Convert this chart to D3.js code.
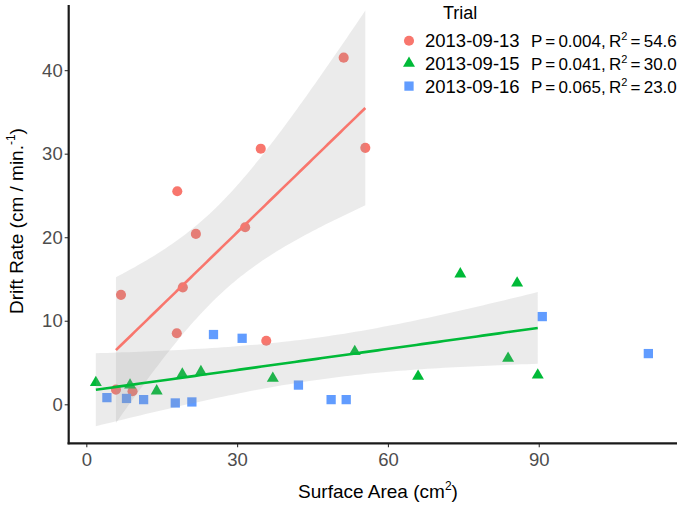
<!DOCTYPE html>
<html><head><meta charset="utf-8">
<script src="https://cdn.jsdelivr.net/npm/d3@7"></script>
<style>body{margin:0;background:#fff}text{font-family:"Liberation Sans",Arial,Helvetica,sans-serif}</style>
</head><body><svg id="c" width="685" height="505"></svg>
<script>
// ---- data ----
const trials = ["2013-09-13", "2013-09-15", "2013-09-16"];
const stats = [["0.004", "54.6"], ["0.041", "30.0"], ["0.065", "23.0"]];
const colors = ["#F8766D", "#00BA38", "#619CFF"];
const showFit = [true, true, false];
const x13 = [6.9, 5.9, 9.2, 18.0, 19.2, 21.8, 31.6, 35.8, 18.1, 34.7, 51.2, 55.5];
const y13 = [13.1, 1.76, 1.56, 8.5, 14.0, 20.4, 21.2, 7.6, 25.5, 30.6, 41.5, 30.7];
const x15 = [1.9, 8.7, 14.0, 19.1, 22.8, 37.1, 53.4, 66.0, 74.4, 85.7, 83.9, 89.8];
const y15 = [2.6, 2.3, 1.6, 3.6, 3.9, 3.1, 6.3, 3.35, 15.6, 14.5, 5.5, 3.5];
const x16 = [4.1, 8.0, 11.4, 17.7, 21.0, 25.3, 31.0, 42.2, 48.7, 51.7, 90.7, 111.8];
const y16 = [0.8, 0.7, 0.56, 0.16, 0.28, 8.35, 7.9, 2.3, 0.56, 0.56, 10.5, 6.07];
const xTicks = [0, 30, 60, 90];
const yTicks = [0, 10, 20, 30, 40];
const tCrit = 2.228; // t(0.975, df = 10)

const xs = [x13, x15, x16], ys = [y13, y15, y16];
const svg = d3.select("#c");
const x = d3.scaleLinear().domain([-3.5, 117.5]).range([68.7, 677]);
const y = d3.scaleLinear().domain([-4.67, 47.8]).range([443.3, 5]);
const shapes = [d3.symbolCircle, d3.symbolTriangle, d3.symbolSquare];
const sizes = [80, 62, 86];

// points
trials.forEach((t, i) => {
  svg.append("g").selectAll("path").data(xs[i].map((v, j) => [v, ys[i][j]])).join("path")
    .attr("transform", d => `translate(${x(d[0])},${y(d[1])})`)
    .attr("d", d3.symbol(shapes[i], sizes[i]))
    .attr("fill", colors[i]);
});

// linear fits with 95% CI
trials.forEach((t, i) => {
  if (!showFit[i]) return;
  const X = xs[i], Y = ys[i], n = X.length;
  const mx = d3.mean(X), my = d3.mean(Y);
  let sxx = 0, sxy = 0;
  X.forEach((v, j) => { sxx += (v - mx) ** 2; sxy += (v - mx) * (Y[j] - my); });
  const b = sxy / sxx, a = my - b * mx;
  let sse = 0; X.forEach((v, j) => { sse += (Y[j] - a - b * v) ** 2; });
  const s = Math.sqrt(sse / (n - 2));
  const [lo, hi] = d3.extent(X);
  const grid = d3.range(0, 81).map(k => lo + (hi - lo) * k / 80);
  const band = grid.map(g => {
    const f = a + b * g, se = s * Math.sqrt(1 / n + (g - mx) ** 2 / sxx);
    return { g, f, l: f - tCrit * se, u: f + tCrit * se };
  });
  svg.append("path").datum(band)
    .attr("d", d3.area().x(d => x(d.g)).y0(d => y(d.l)).y1(d => y(d.u)))
    .attr("fill", "#999").attr("fill-opacity", 0.2);
  svg.append("path").datum(band)
    .attr("d", d3.line().x(d => x(d.g)).y(d => y(d.f)))
    .attr("fill", "none").attr("stroke", colors[i]).attr("stroke-width", 2.6);
});

// axes
const ax = svg.append("g").attr("transform", "translate(0,443.3)")
  .call(d3.axisBottom(x).tickValues(xTicks).tickSize(4).tickPadding(6));
const ay = svg.append("g").attr("transform", "translate(68.7,0)")
  .call(d3.axisLeft(y).tickValues(yTicks).tickSize(4).tickPadding(2));
[ax, ay].forEach(g => {
  g.select(".domain").remove();
  g.selectAll(".tick line").attr("stroke", "#333").attr("stroke-width", 1.1);
  g.selectAll(".tick text").attr("fill", "#4d4d4d").style("font-size", "18.5px")
    .style("font-family", '"Liberation Sans",Arial,sans-serif');
});
svg.append("line").attr("x1", 68.7).attr("x2", 68.7).attr("y1", 5).attr("y2", 444.3)
  .attr("stroke", "#1a1a1a").attr("stroke-width", 2.2);
svg.append("line").attr("x1", 67.6).attr("x2", 677).attr("y1", 443.3).attr("y2", 443.3)
  .attr("stroke", "#1a1a1a").attr("stroke-width", 2.2);

// axis titles
const xt = svg.append("text").attr("x", 378).attr("y", 498).attr("text-anchor", "middle")
  .style("font-size", "19px").attr("fill", "#000");
xt.append("tspan").text("Surface Area (cm");
xt.append("tspan").attr("dy", -8).style("font-size", "12px").text("2");
xt.append("tspan").attr("dy", 8).text(")");
const yt = svg.append("text").attr("transform", "translate(23,221) rotate(-90)")
  .attr("text-anchor", "middle").style("font-size", "19px").attr("fill", "#000");
yt.append("tspan").text("Drift Rate (cm / min.");
yt.append("tspan").attr("dy", -8).style("font-size", "12px").text("-1");
yt.append("tspan").attr("dy", 8).text(")");

// legend
svg.append("text").attr("x", 443).attr("y", 19).style("font-size", "18px").text("Trial");
trials.forEach((t, i) => {
  const cy = 40.7 + i * 22.7;
  svg.append("path").attr("transform", `translate(409,${cy})`)
    .attr("d", d3.symbol(shapes[i], sizes[i])).attr("fill", colors[i]);
  svg.append("text").attr("x", 425).attr("y", cy + 6.5).style("font-size", "18.5px").text(t);
  const st = svg.append("text").attr("x", 531).attr("y", cy + 6.5).style("font-size", "17px")
    .style("word-spacing", "-1.5px");
  st.append("tspan").text(`P = ${stats[i][0]}, R`);
  st.append("tspan").attr("dy", -7).style("font-size", "11px").text("2");
  st.append("tspan").attr("dy", 7).text(` = ${stats[i][1]}`);
});
</script></body></html>
